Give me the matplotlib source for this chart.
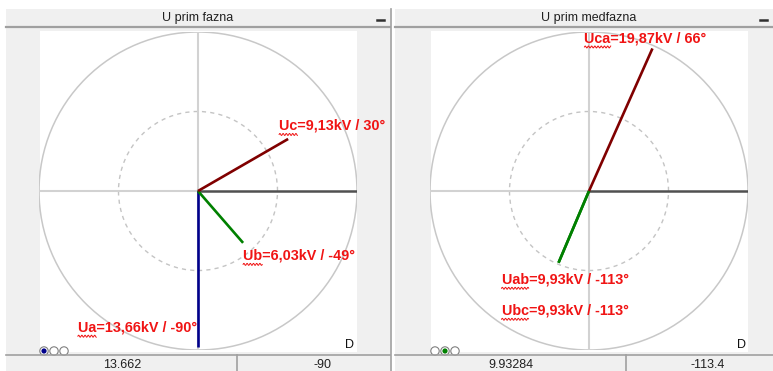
import numpy as np
import matplotlib
matplotlib.use("Agg")
import matplotlib.pyplot as plt
from matplotlib.patches import Circle, Rectangle
from matplotlib.lines import Line2D
from matplotlib.transforms import IdentityTransform

plt.rcParams['font.family'] = ['Liberation Sans', 'DejaVu Sans']

# phase voltages (kV, degrees)
fazna_names = ['Ua', 'Ub', 'Uc']
fazna_mag = [13.66, 6.03, 9.13]
fazna_ang = [-90, -49, 30]
fazna_colors = ['#00008b', '#008000', '#800000']
fazna_status = ['13.662', '-90']
fazna_selected = 0

# line-to-line voltages (kV, degrees)
medfazna_names = ['Uab', 'Ubc', 'Uca']
medfazna_mag = [9.93, 9.93, 19.87]
medfazna_ang = [-113, -113, 66]
medfazna_colors = ['#008000', '#008000', '#800000']
medfazna_status = ['9.93284', '-113.4']
medfazna_selected = 1

W, H = 773, 371
fig = plt.figure(figsize=(W / 100, H / 100), dpi=100)
page = fig.add_axes([0, 0, 1, 1])
page.set_xlim(0, W)
page.set_ylim(H, 0)
page.axis('off')

EDGE = '#a0a0a0'
PANEL = '#f0f0f0'
RED = '#f01414'


def px(x0, y0, w, h):
    return [x0 / W, (H - y0 - h) / H, w / W, h / H]


def draw_panel(x0, x1, cx, title, status, status_x, divider_x):
    page.add_patch(Rectangle((x0, 9), x1 - x0, H - 9, fc=PANEL, ec='none'))
    page.plot([x0, x1], [26.5, 26.5], color=EDGE, lw=1.6)
    page.text(cx, 18, title, ha='center', va='center', fontsize=9, color='#202020')
    # minimise button
    page.plot([x1 - 13, x1 - 6], [20, 20], color='#303030', lw=1.8)
    page.plot([x1 + 0.5, x1 + 0.5], [9, H], color=EDGE, lw=1.2)
    # white plotting area
    page.add_patch(Rectangle((cx - 158, 31), 317, 321, fc='white', ec='none'))
    # status bar
    page.plot([x0, x1], [355, 355], color=EDGE, lw=1.2)
    page.plot([divider_x, divider_x], [355, H], color=EDGE, lw=1.2)
    for s, sx in zip(status, status_x):
        page.text(sx, 359.5, s, ha='center', va='top', fontsize=9, color='#202020')
    page.text(cx + 152, 345, 'D', ha='center', va='center', fontsize=9, color='#101010')


def squiggle(txt, name, renderer):
    bb = txt.get_window_extent(renderer)
    w, _, _ = renderer.get_text_width_height_descent(name, txt.get_fontproperties(), ismath=False)
    xs = np.linspace(bb.x0, bb.x0 + w, 60)
    ys = bb.y0 - 1.5 + 1.0 * np.sin((xs - bb.x0) * 2 * np.pi / 3.2)
    fig.add_artist(Line2D(xs, ys, transform=IdentityTransform(), color=RED, lw=0.7))


def draw_phasors(cx, full_scale, names, mags, angs, colors, offsets, selected):
    ax = fig.add_axes(px(cx - 159, 32, 318, 318))
    ax.set_xlim(-full_scale, full_scale)
    ax.set_ylim(-full_scale, full_scale)
    ax.set_aspect('equal')
    ax.axis('off')
    ax.patch.set_alpha(0)

    ax.add_patch(Circle((0, 0), full_scale, fill=False, ec='#c8c8c8', lw=1.1))
    ax.add_patch(Circle((0, 0), full_scale / 2, fill=False, ec='#c4c4c4', lw=1.0, ls=(0, (3, 3))))
    ax.plot([-full_scale, 0], [0, 0], color='#d2d2d2', lw=1.5)
    ax.plot([0, 0], [-full_scale, full_scale], color='#d2d2d2', lw=1.5)
    ax.plot([0, full_scale], [0, 0], color='#505050', lw=1.8)

    texts = []
    for name, m, a, c, (dx, dy, ha) in zip(names, mags, angs, colors, offsets):
        tx = m * np.cos(np.radians(a))
        ty = m * np.sin(np.radians(a))
        ax.plot([0, tx], [0, ty], color=c, lw=1.9, solid_capstyle='butt')
        label = f"{name}={m:.2f}kV / {a}°".replace('.', ',')
        t = ax.annotate(label, xy=(tx, ty), xytext=(dx, dy), textcoords='offset pixels',
                        ha=ha, va='center', fontsize=10.4, fontweight='bold', color=RED)
        texts.append((t, name))

    # selector buttons under the diagram
    for i, c in enumerate(colors):
        bx = cx - 154 + 10 * i
        page.add_patch(Circle((bx, 351), 4.2, fc='white', ec='#808080', lw=0.8))
        if i == selected:
            page.add_patch(Circle((bx, 351), 2.6, fc=c, ec='none'))
    return texts


draw_panel(6, 390, 198, 'U prim fazna', fazna_status, [122, 322], 237)
draw_panel(395, 773, 589, 'U prim medfazna', medfazna_status, [511, 708], 626)

labels = []
labels += draw_phasors(198, 13.95, fazna_names, fazna_mag, fazna_ang, fazna_colors,
                       [(-1, 19, 'right'), (0, -13, 'left'), (-9, 13, 'left')],
                       fazna_selected)
labels += draw_phasors(589, 20.25, medfazna_names, medfazna_mag, medfazna_ang, medfazna_colors,
                       [(-57, -17, 'left'), (-57, -48, 'left'), (-68, 10, 'left')],
                       medfazna_selected)

renderer = fig.canvas.get_renderer()
for t, name in labels:
    squiggle(t, name, renderer)

fig.savefig('out.png', dpi=100)
